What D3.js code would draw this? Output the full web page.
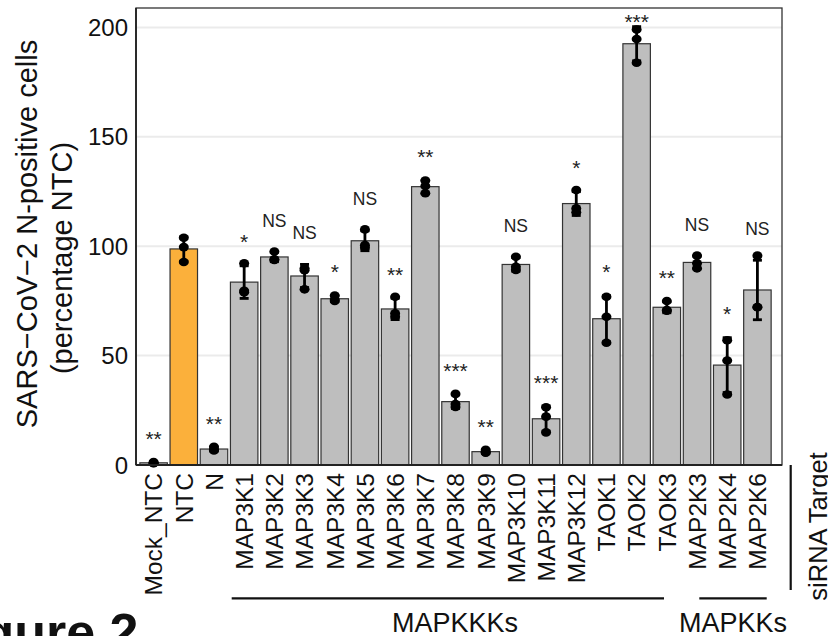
<!DOCTYPE html>
<html>
<head>
<meta charset="utf-8">
<script src="https://cdn.jsdelivr.net/npm/d3@7"></script>
<style>
  html, body { margin: 0; padding: 0; background: #fff; }
  svg { display: block; font-family: "Liberation Sans", Arial, Helvetica, sans-serif; }
</style>
</head>
<body>
<svg id="chart" width="828" height="636"></svg>
<script>
// siRNA targets along the x axis
const categories = ["Mock_NTC", "NTC", "N", "MAP3K1", "MAP3K2", "MAP3K3", "MAP3K4",
  "MAP3K5", "MAP3K6", "MAP3K7", "MAP3K8", "MAP3K9", "MAP3K10", "MAP3K11",
  "MAP3K12", "TAOK1", "TAOK2", "TAOK3", "MAP2K3", "MAP2K4", "MAP2K6"];

// replicate measurements (percentage of NTC), three per target
const replicates = [
  [1.3, 0.8, 0.9],
  [103.9, 99.6, 92.8],
  [8.3, 7.0, 6.6],
  [92.2, 79.6, 79.0],
  [97.6, 94.0, 93.7],
  [89.9, 89.0, 80.3],
  [77.5, 75.0, 75.5],
  [107.7, 100.5, 99.3],
  [76.9, 69.3, 67.8],
  [130.0, 127.5, 124.2],
  [32.5, 27.9, 26.5],
  [6.9, 5.8, 5.6],
  [95.2, 90.6, 89.2],
  [26.4, 22.1, 14.9],
  [125.7, 117.3, 115.5],
  [76.9, 67.8, 55.9],
  [199.1, 194.7, 183.9],
  [75.0, 70.8, 70.5],
  [95.7, 92.2, 89.9],
  [57.0, 47.8, 32.2],
  [95.7, 72.2, 72.1]
];

// significance versus NTC
const significance = ["**", "", "**", "*", "NS", "NS", "*", "NS", "**", "**", "***",
  "**", "NS", "***", "*", "*", "***", "**", "NS", "*", "NS"];

const highlighted = "NTC";
const yTicks = [0, 50, 100, 150, 200];
const yTitleLines = ["SARS\u2212CoV\u22122 N-positive cells", "(percentage NTC)"];
const groupLabels = ["MAPKKKs", "MAPKKs"];
const axisTitle = "siRNA Target";
const figureTag = "Figure 2";

// ---- layout ----
const panel = { left: 136, right: 782, top: 8, bottom: 465 };
const svg = d3.select("#chart");

const x = d3.scaleBand()
  .domain(categories)
  .range([138.5, 772.5])
  .paddingInner(0.09)
  .paddingOuter(0.045);

const y = d3.scaleLinear()
  .domain([0, 208.9])
  .range([panel.bottom, panel.top]);

const stats = categories.map((c, i) => {
  const vals = replicates[i];
  return {
    cat: c,
    vals,
    mean: d3.mean(vals),
    sd: d3.deviation(vals),
    sig: significance[i]
  };
});

// horizontal grid lines
svg.append("g")
  .selectAll("line")
  .data(yTicks.filter(t => t > 0))
  .join("line")
  .attr("x1", panel.left).attr("x2", panel.right)
  .attr("y1", d => y(d)).attr("y2", d => y(d))
  .attr("stroke", "#ebebeb")
  .attr("stroke-width", 2);

// bars
svg.append("g")
  .selectAll("rect")
  .data(stats)
  .join("rect")
  .attr("x", d => x(d.cat))
  .attr("width", x.bandwidth())
  .attr("y", d => y(d.mean))
  .attr("height", d => y(0) - y(d.mean))
  .attr("fill", d => d.cat === highlighted ? "#fbb03b" : "#bebebe")
  .attr("stroke", "#333")
  .attr("stroke-width", 1.2);

// error bars (mean +/- SD)
const eb = svg.append("g").attr("stroke", "#000").attr("stroke-width", 2.8);
stats.forEach(d => {
  const cx = x(d.cat) + x.bandwidth() / 2;
  const hi = y(d.mean + d.sd), lo = y(Math.max(0, d.mean - d.sd));
  eb.append("line").attr("x1", cx).attr("x2", cx).attr("y1", hi).attr("y2", lo);
  eb.append("line").attr("x1", cx - 4.5).attr("x2", cx + 4.5).attr("y1", hi).attr("y2", hi);
  eb.append("line").attr("x1", cx - 4.5).attr("x2", cx + 4.5).attr("y1", lo).attr("y2", lo);
});

// replicate points
svg.append("g")
  .selectAll("g")
  .data(stats)
  .join("g")
  .selectAll("ellipse")
  .data(d => d.vals.map(v => ({ cat: d.cat, v })))
  .join("ellipse")
  .attr("cx", d => x(d.cat) + x.bandwidth() / 2)
  .attr("cy", d => y(d.v))
  .attr("rx", 5)
  .attr("ry", 4.3)
  .attr("fill", "#000");

// significance labels
svg.append("g")
  .selectAll("text")
  .data(stats.filter(d => d.sig))
  .join("text")
  .attr("x", d => x(d.cat) + x.bandwidth() / 2)
  .attr("y", d => {
    const off = d.sig === "NS" ? 25.5 : 16.5;
    return Math.max(y(d.mean + d.sd) - off, panel.top + 21);
  })
  .attr("text-anchor", "middle")
  .attr("font-size", d => d.sig === "NS" ? 17.5 : 21)
  .attr("fill", "#222")
  .text(d => d.sig);

// panel frame
svg.append("rect")
  .attr("x", panel.left).attr("y", panel.top)
  .attr("width", panel.right - panel.left)
  .attr("height", panel.bottom - panel.top)
  .attr("fill", "none")
  .attr("stroke", "#333")
  .attr("stroke-width", 1.3);
svg.append("line")
  .attr("x1", panel.left).attr("x2", panel.right)
  .attr("y1", panel.bottom).attr("y2", panel.bottom)
  .attr("stroke", "#222").attr("stroke-width", 1.8);
svg.append("line")
  .attr("x1", panel.left).attr("x2", panel.left)
  .attr("y1", panel.top).attr("y2", panel.bottom)
  .attr("stroke", "#222").attr("stroke-width", 1.8);

// y tick labels
svg.append("g")
  .selectAll("text")
  .data(yTicks)
  .join("text")
  .attr("x", 128)
  .attr("y", d => y(d))
  .attr("dy", "0.36em")
  .attr("text-anchor", "end")
  .attr("font-size", 24)
  .attr("fill", "#111")
  .text(d => d);

// x tick labels (rotated)
svg.append("g")
  .selectAll("text")
  .data(categories)
  .join("text")
  .attr("transform", d => `translate(${x(d) + x.bandwidth() / 2},473) rotate(-90)`)
  .attr("dy", "0.36em")
  .attr("text-anchor", "end")
  .attr("font-size", 24.5)
  .attr("fill", "#111")
  .text(d => d);

// y axis title (two lines)
const titleCentres = [{ bx: 37, cy: 234 }, { bx: 72, cy: 258 }];
yTitleLines.forEach((t, i) => {
  svg.append("text")
    .attr("transform", `translate(${titleCentres[i].bx},${titleCentres[i].cy}) rotate(-90)`)
    .attr("text-anchor", "middle")
    .attr("font-size", 29)
    .attr("fill", "#111")
    .text(t);
});

// group brackets below the tick labels
const brackets = [
  { x1: 231.7, x2: 664, tx: 455 },
  { x1: 699.3, x2: 766.7, tx: 733 }
];
brackets.forEach((b, i) => {
  svg.append("line")
    .attr("x1", b.x1).attr("x2", b.x2)
    .attr("y1", 598.3).attr("y2", 598.3)
    .attr("stroke", "#111").attr("stroke-width", 2.2);
  svg.append("text")
    .attr("x", b.tx).attr("y", 632)
    .attr("text-anchor", "middle")
    .attr("font-size", 27)
    .attr("fill", "#111")
    .text(groupLabels[i]);
});

// x axis title with its vertical rule
svg.append("line")
  .attr("x1", 790.7).attr("x2", 790.7)
  .attr("y1", 465).attr("y2", 590)
  .attr("stroke", "#111").attr("stroke-width", 2.2);
svg.append("text")
  .attr("transform", "translate(826.5,526.5) rotate(-90)")
  .attr("text-anchor", "middle")
  .attr("font-size", 25.5)
  .attr("fill", "#111")
  .text(axisTitle);

// figure tag
svg.append("text")
  .attr("x", 138.5).attr("y", 650)
  .attr("text-anchor", "end")
  .attr("font-size", 52)
  .attr("font-weight", "bold")
  .attr("fill", "#111")
  .text(figureTag);
</script>
</body>
</html>
